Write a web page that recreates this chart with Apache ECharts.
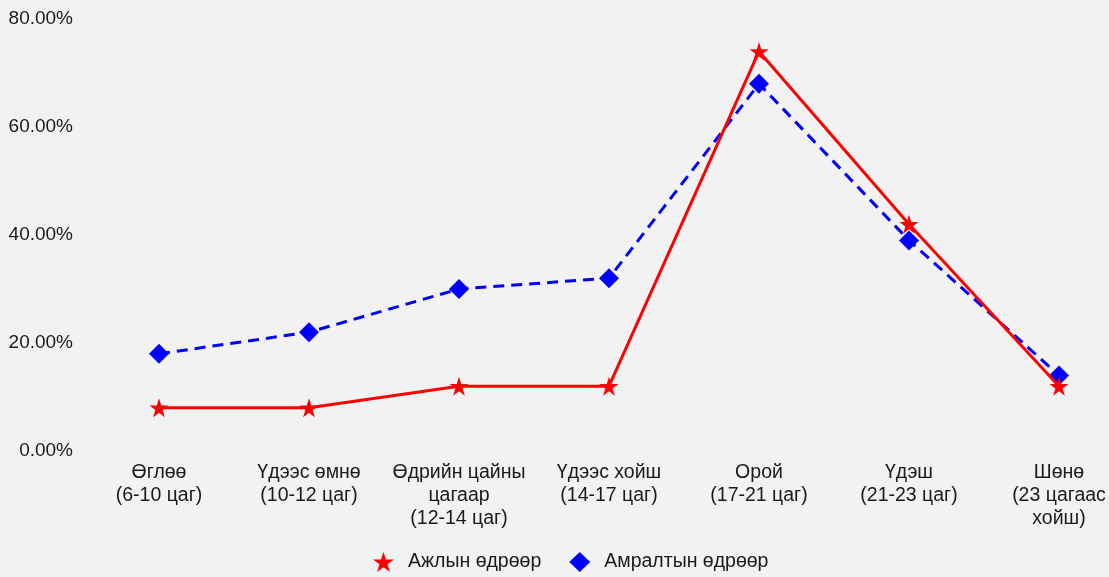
<!DOCTYPE html>
<html><head><meta charset="utf-8">
<script src="https://cdn.jsdelivr.net/npm/echarts@6/dist/echarts.min.js"></script>
<style>html,body{margin:0;padding:0;background:#f2f2f2;overflow:hidden;width:1109px;height:577px;}#c{width:1134px;height:577px;}</style>
</head><body><div id="c"></div>
<script>
const categories = ["Өглөө\n(6-10 цаг)", "Үдээс өмнө\n(10-12 цаг)", "Өдрийн цайны\nцагаар\n(12-14 цаг)", "Үдээс хойш\n(14-17 цаг)", "Орой\n(17-21 цаг)", "Үдэш\n(21-23 цаг)", "Шөнө\n(23 цагаас\nхойш)"];
const workdays = [8, 8, 12, 12, 74, 42, 12];
const weekends = [18, 22, 30, 32, 68, 39, 14];
const seriesNames = ["Ажлын өдрөөр", "Амралтын өдрөөр"];
const yTicks = [0, 20, 40, 60, 80];

const chart = echarts.init(document.getElementById('c'));
const font = 'Liberation Sans, Arial, sans-serif';
const star = 'path://M50,0 L61.8,36.2 L100,36.2 L69.1,58.8 L80.9,95.1 L50,72.7 L19.1,95.1 L30.9,58.8 L0,36.2 L38.2,36.2 Z';
chart.setOption({
  backgroundColor: '#f2f2f2',
  animation: false,
  textStyle: {fontFamily: font},
  grid: {left: 84, top: 19, right: 0, height: 432, containLabel: false},
  legend: {
    left: 373, top: 552, padding: 0, itemGap: 28, itemWidth: 21, itemHeight: 20,
    textStyle: {fontSize: 19.5, color: '#1a1a1a', fontFamily: font, padding: [0, 0, 0, 9]},
    data: [{name: seriesNames[0], icon: star},
           {name: seriesNames[1], icon: 'diamond'}]
  },
  xAxis: {
    type: 'category', data: categories, boundaryGap: true,
    axisLine: {show: false}, axisTick: {show: false},
    axisLabel: {fontSize: 19.5, color: '#1a1a1a', lineHeight: 23, margin: 10, interval: 0, fontFamily: font}
  },
  yAxis: {
    type: 'value', min: yTicks[0], max: yTicks[yTicks.length - 1], interval: 20,
    splitLine: {show: false}, axisLine: {show: false}, axisTick: {show: false},
    axisLabel: {fontSize: 19, color: '#1a1a1a', margin: 11, fontFamily: font,
      formatter: v => v.toFixed(2) + '%'}
  },
  series: [
    {name: seriesNames[0], type: 'line', data: workdays,
     symbol: star, symbolSize: 19, itemStyle: {color: '#ff0000'},
     lineStyle: {color: '#ff0000', width: 3}, z: 3},
    {name: seriesNames[1], type: 'line', data: weekends,
     symbol: 'diamond', symbolSize: 20, itemStyle: {color: '#0000ff'},
     lineStyle: {color: '#0000ff', width: 3, type: [11, 7]}, z: 2}
  ]
});
</script></body></html>
